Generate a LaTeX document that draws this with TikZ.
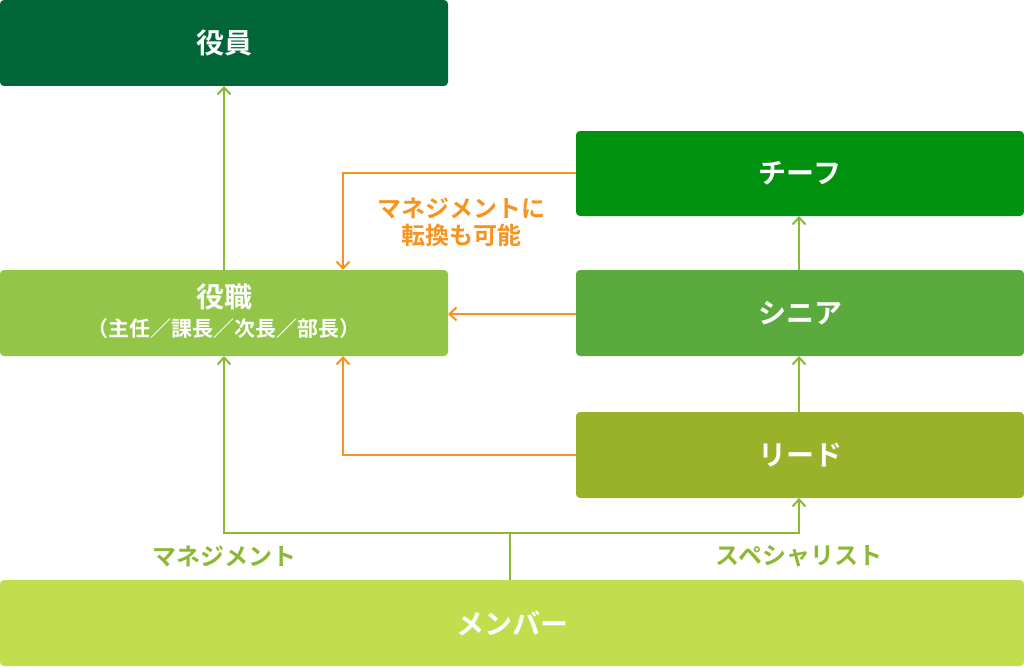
\documentclass[tikz,border=0pt]{standalone}
\usepackage{fontspec}
\setmainfont{Noto Sans CJK JP}[BoldFont={Noto Sans CJK JP Bold}]
\usetikzlibrary{arrows.meta,positioning}
\definecolor{cExec}{RGB}{0,102,56}
\definecolor{cChief}{RGB}{0,146,15}
\definecolor{cPost}{RGB}{147,198,72}
\definecolor{cSenior}{RGB}{91,170,62}
\definecolor{cLead}{RGB}{153,178,42}
\definecolor{cMember}{RGB}{194,222,78}
\definecolor{cLine}{RGB}{141,184,52}
\definecolor{cOrange}{RGB}{247,147,30}
\tikzset{
  boxtext/.style={text=white, font=\bfseries\fontsize{28}{32}\selectfont, align=center, inner sep=0pt},
  gline/.style={draw=cLine, line width=2pt},
  oline/.style={draw=cOrange, line width=2pt},
  tip/.style={-{Straight Barb[length=7pt,width=13pt,line width=2pt]}},
}
\begin{document}
\begin{tikzpicture}[x=1pt,y=-1pt]
\useasboundingbox (0,0) rectangle (1024,666);
% boxes
\fill[cExec, rounded corners=4pt] (0,0) rectangle (448,86);
\node[boxtext] (exec) at (224,43) {役員};
\coordinate (execB) at (224,86);
\fill[cChief, rounded corners=4pt] (576,131) rectangle (1024,216);
\node[boxtext] (chief) at (800,173.5) {チーフ};
\fill[cPost, rounded corners=4pt] (0,270) rectangle (448,356);
\node[boxtext] (post) at (224,297) {役職};
\node[text=white, font=\bfseries\fontsize{21}{24}\selectfont, inner sep=0pt] (postsub) at (224,329) {（主任／課長／次長／部長）};
\fill[cSenior, rounded corners=4pt] (576,270) rectangle (1024,356);
\node[boxtext] (senior) at (800,313) {シニア};
\fill[cLead, rounded corners=4pt] (576,412) rectangle (1024,498);
\node[boxtext] (lead) at (800,455) {リード};
\fill[cMember, rounded corners=4pt] (0,580) rectangle (1024,666);
\node[boxtext] (member) at (512,623) {メンバー};
% coordinates
\coordinate (postT) at (224,270);
\coordinate (postTR) at (343,270);
\coordinate (postR) at (448,314);
\coordinate (postB) at (224,356);
\coordinate (postBR) at (343,356);
\coordinate (chiefL) at (576,173);
\coordinate (chiefB) at (799,216);
\coordinate (seniorL) at (576,314);
\coordinate (seniorT) at (799,270);
\coordinate (seniorB) at (799,356);
\coordinate (leadL) at (576,455);
\coordinate (leadT) at (799,412);
\coordinate (leadB) at (799,498);
\coordinate (memberT) at (510,580);
\coordinate (split) at (510,533);
% green connectors
\draw[gline, tip] (postT) -- (execB);
\draw[gline, tip] (seniorT) -- (chiefB);
\draw[gline, tip] (leadT) -- (seniorB);
\draw[gline] (memberT) -- (split);
\draw[gline, tip] (split) -| (postB);
\draw[gline, tip] (split) -| (leadB);
% orange connectors
\draw[oline, tip] (chiefL) -| (postTR);
\draw[oline, tip] (seniorL) -- (postR);
\draw[oline, tip] (leadL) -| (postBR);
% labels
\node[text=cLine, font=\bfseries\fontsize{24}{28}\selectfont, inner sep=0pt] (lblM) at (224,556) {マネジメント};
\node[text=cLine, font=\bfseries\fontsize{24}{28}\selectfont, inner sep=0pt] (lblS) at (799,556) {スペシャリスト};
\node[text=cOrange, font=\bfseries\fontsize{24}{27}\selectfont, align=center, inner sep=0pt] (lblO) at (461,222) {マネジメントに\\転換も可能};
\end{tikzpicture}
\end{document}
